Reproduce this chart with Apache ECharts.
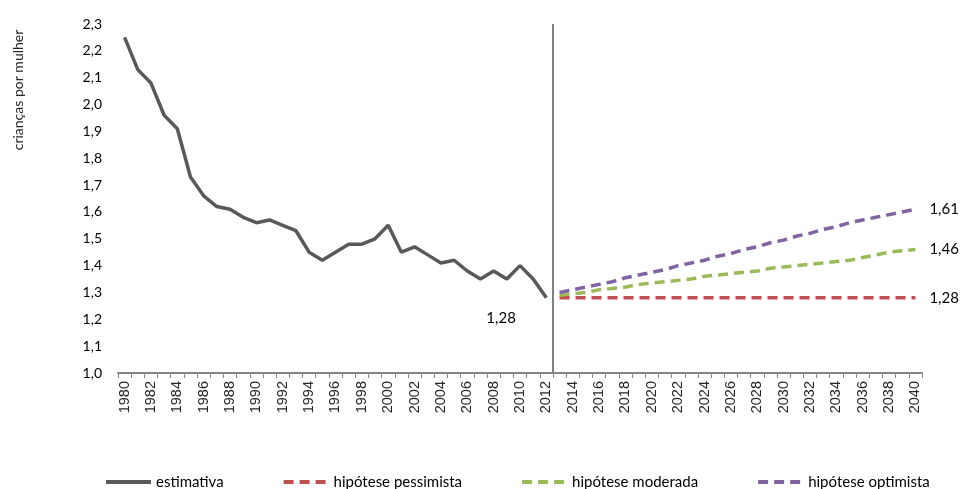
<!DOCTYPE html>
<html>
<head>
<meta charset="utf-8">
<script src="https://cdn.jsdelivr.net/npm/echarts@6/dist/echarts.min.js"></script>
<style>html,body{margin:0;padding:0;background:#fff}#c{width:962px;height:489px}</style>
</head>
<body>
<div id="c"></div>
<script>
// ---- data ----
var years = [];
for (var y = 1980; y <= 2040; y++) years.push(String(y));

var estimativa = [2.25, 2.13, 2.08, 1.96, 1.91, 1.73, 1.66, 1.62, 1.61, 1.58, 1.56, 1.57, 1.55, 1.53,
  1.45, 1.42, 1.45, 1.48, 1.48, 1.50, 1.55, 1.45, 1.47, 1.44, 1.41, 1.42, 1.38, 1.35, 1.38, 1.35,
  1.40, 1.35, 1.28]; // 1980-2012

var pessimista = [1.28, 1.28, 1.28, 1.28, 1.28, 1.28, 1.28, 1.28, 1.28, 1.28, 1.28, 1.28, 1.28, 1.28,
  1.28, 1.28, 1.28, 1.28, 1.28, 1.28, 1.28, 1.28, 1.28, 1.28, 1.28, 1.28, 1.28, 1.28]; // 2013-2040

var moderada = [1.29, 1.295, 1.30, 1.31, 1.315, 1.32, 1.33, 1.335, 1.34, 1.345, 1.35, 1.36, 1.365, 1.37,
  1.375, 1.38, 1.39, 1.395, 1.40, 1.405, 1.41, 1.415, 1.42, 1.43, 1.44, 1.45, 1.455, 1.46]; // 2013-2040

var optimista = [1.30, 1.31, 1.32, 1.33, 1.34, 1.355, 1.365, 1.375, 1.385, 1.40, 1.41, 1.42, 1.435, 1.445,
  1.46, 1.47, 1.485, 1.495, 1.51, 1.52, 1.535, 1.545, 1.56, 1.57, 1.58, 1.59, 1.60, 1.61]; // 2013-2040

var projStartIndex = 33;       // 2013
var dividerBoundary = 33;      // boundary between 2012 and 2013 (category units)
var yTicks = {min: 1.0, max: 2.3, interval: 0.1};

// ---- helpers ----
function fmt(v) { return Number(v).toFixed(2).replace('.', ','); }
function place(vals, start) {
  var out = [];
  for (var i = 0; i < years.length; i++) {
    var k = i - start;
    out.push(k >= 0 && k < vals.length ? vals[k] : null);
  }
  return out;
}
function endLbl(extra) {
  return Object.assign({
    show: true, fontFamily: 'Lato', fontSize: 15, color: '#000',
    formatter: function (p) { return fmt(Array.isArray(p.value) ? p.value[1] : p.value); }
  }, extra);
}

var chart = echarts.init(document.getElementById('c'));
chart.setOption({
  animation: false,
  backgroundColor: '#fff',
  grid: {left: 118, right: 40, top: 24, bottom: 116, containLabel: false},
  legend: {
    data: ['estimativa', 'hipótese pessimista', 'hipótese moderada', 'hipótese optimista'],
    left: 104, top: 473, padding: 0,
    itemWidth: 45, itemHeight: 12, itemGap: 58,
    itemStyle: {opacity: 0},
    lineStyle: {width: 4},
    textStyle: {fontFamily: 'Lato', fontSize: 15, color: '#000', lineHeight: 18}
  },
  graphic: [{
    type: 'text', x: 18, y: 90, rotation: Math.PI / 2,
    style: {text: 'crianças por mulher', fontFamily: 'Lato', fontSize: 14, fill: '#262626', align: 'center', verticalAlign: 'middle'}
  }],
  xAxis: [{
    type: 'category', data: years, boundaryGap: true,
    axisLine: {lineStyle: {color: '#868686', width: 2}},
    axisTick: {show: true, interval: 0, length: 5, lineStyle: {color: '#868686', width: 1}},
    axisLabel: {interval: 1, rotate: 90, margin: 8, fontFamily: 'Liberation Sans', fontSize: 14.5, color: '#262626'},
    splitLine: {show: false}
  }, {
    type: 'value', min: 0, max: years.length, show: false
  }],
  yAxis: {
    type: 'value', min: yTicks.min, max: yTicks.max, interval: yTicks.interval,
    axisLine: {show: false}, axisTick: {show: false}, splitLine: {show: false},
    axisLabel: {margin: 16, fontFamily: 'Lato', fontSize: 14, color: '#000',
      formatter: function (v) { return v.toFixed(1).replace('.', ','); }}
  },
  series: [{
    name: 'estimativa', type: 'line', symbol: 'none', connectNulls: false,
    lineStyle: {color: '#595959', width: 3.5}, itemStyle: {color: '#595959'},
    endLabel: endLbl({offset: [-68, 20]}),
    data: place(estimativa, 0),
    z: 3
  }, {
    name: 'hipótese pessimista', type: 'line', symbol: 'none',
    lineStyle: {color: '#C0504D', width: 3.5, type: [10, 6]}, itemStyle: {color: '#C0504D'},
    endLabel: endLbl({distance: 14}),
    data: place(pessimista, projStartIndex)
  }, {
    name: 'hipótese moderada', type: 'line', symbol: 'none',
    lineStyle: {color: '#9BBB59', width: 3.5, type: [10, 6]}, itemStyle: {color: '#9BBB59'},
    endLabel: endLbl({distance: 14}),
    data: place(moderada, projStartIndex)
  }, {
    name: 'hipótese optimista', type: 'line', symbol: 'none',
    lineStyle: {color: '#8064A2', width: 3.5, type: [10, 6]}, itemStyle: {color: '#8064A2'},
    endLabel: endLbl({distance: 14}),
    data: place(optimista, projStartIndex)
  }, {
    type: 'line', xAxisIndex: 1, data: [], silent: true,
    markLine: {
      symbol: 'none', silent: true, label: {show: false},
      lineStyle: {color: '#808080', width: 2, type: 'solid'},
      data: [{xAxis: dividerBoundary}]
    }
  }]
});
</script>
</body>
</html>
